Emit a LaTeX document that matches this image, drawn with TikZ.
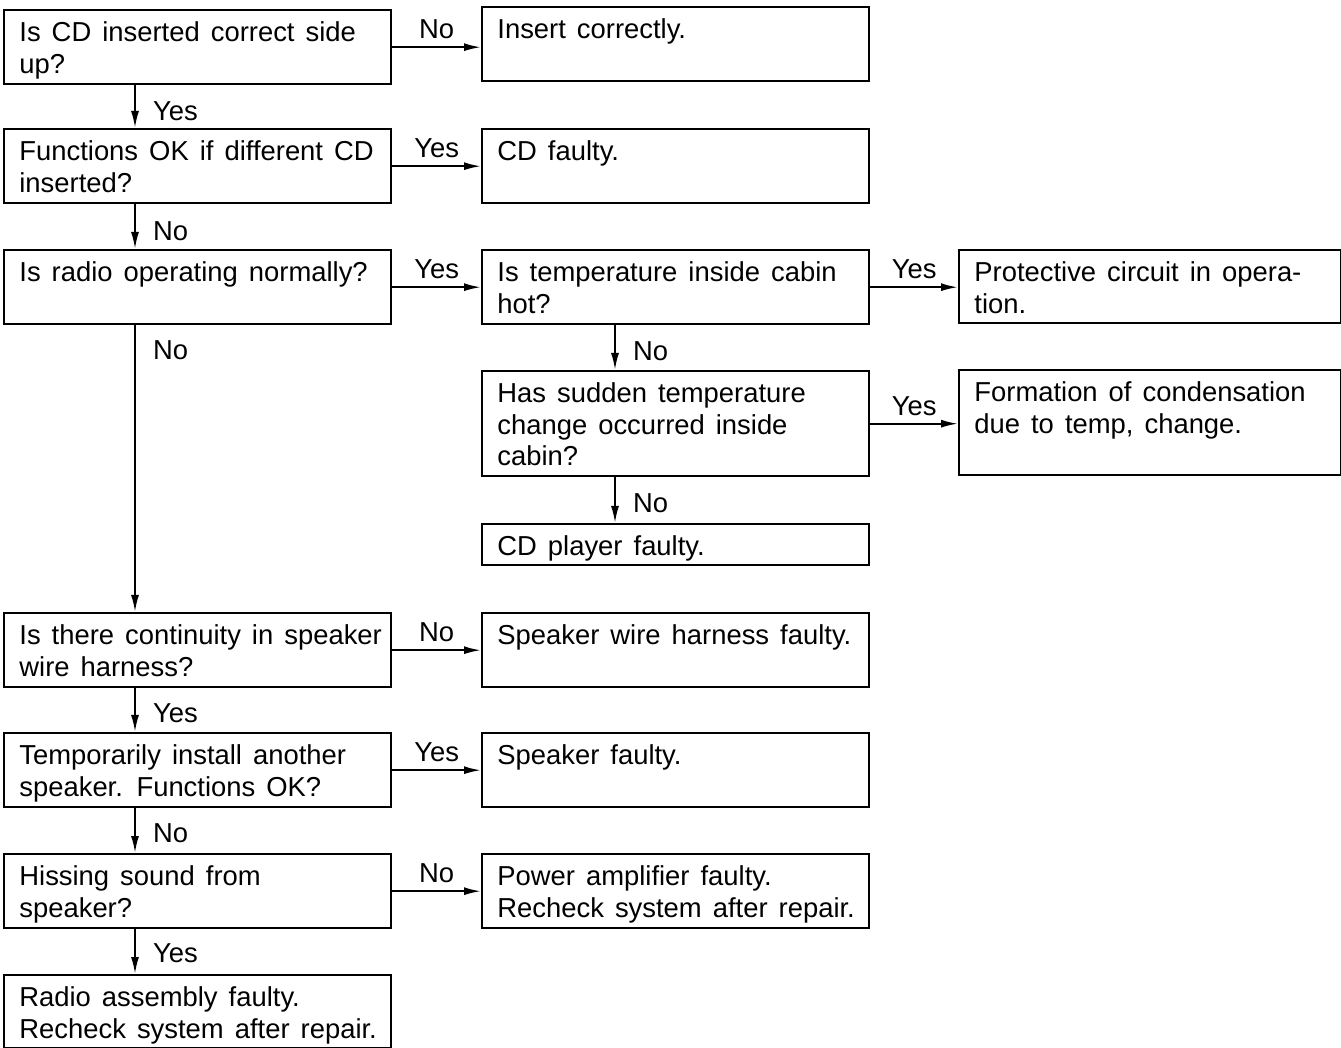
\documentclass[tikz,border=0pt]{standalone}
\usepackage{fontspec}
\setmainfont{Liberation Sans}[WordSpace=1.45]
\usetikzlibrary{arrows.meta, positioning, calc}
\newcommand{\chartfont}{\fontsize{13.7}{15.8}\selectfont}
\tikzset{
    stepbox/.style={
        rectangle,
        draw=black,
        line width=1.2pt,
        anchor=north west,
        inner sep=0pt,
        minimum width=193.5pt,
        minimum height=37pt
    },
    boxtext/.style={
        anchor=north west,
        inner sep=0pt,
        align=left,
        xshift=8pt,
        yshift=-6.2pt,
        font=\chartfont
    },
    answer/.style={inner sep=2pt, font=\chartfont},
    flowarrow/.style={-{Latex[length=8.5pt, width=4pt]}, line width=1pt, draw=black}
}

\begin{document}
\begin{tikzpicture}[x=0.5pt,y=-0.5pt]
        \useasboundingbox (0,0) rectangle (1341,1048);
        \coordinate (lcol) at (135,0);
        \coordinate (mcol) at (615,0);

        % left column: questions
        \node[stepbox] (side) at (3,9) {};
        \node[stepbox] (othercd) at (3,128) {};
        \node[stepbox] (radio) at (3,249) {};
        \node[stepbox] (wire) at (3,612) {};
        \node[stepbox] (spare) at (3,732) {};
        \node[stepbox] (hiss) at (3,853) {};
        \node[stepbox, minimum height=36.5pt] (radiofault) at (3,974) {};

        % middle column
        \node[stepbox] (insert) at (481,6) {};
        \node[stepbox] (cdfault) at (481,128) {};
        \node[stepbox] (hot) at (481,249) {};
        \node[stepbox, minimum height=52.5pt] (sudden) at (481,370) {};
        \node[stepbox, minimum height=20.5pt] (player) at (481,523) {};
        \node[stepbox] (wirefault) at (481,612) {};
        \node[stepbox] (spkfault) at (481,732) {};
        \node[stepbox] (ampfault) at (481,853) {};

        % right column
        \node[stepbox, minimum width=191pt, minimum height=36.5pt] (protect) at (958,249) {};
        \node[stepbox, minimum width=191pt, minimum height=52.5pt] (condense) at (958,369) {};

        % texts
        \node[boxtext] (side-t) at (side.north west) {Is CD inserted correct side\\up?};
        \node[boxtext] (othercd-t) at (othercd.north west) {Functions OK if different CD\\inserted?};
        \node[boxtext] (radio-t) at (radio.north west) {Is radio operating normally?};
        \node[boxtext] (wire-t) at (wire.north west) {Is there continuity in speaker\\wire harness?};
        \node[boxtext] (spare-t) at (spare.north west) {Temporarily install another\\speaker. Functions OK?};
        \node[boxtext] (hiss-t) at (hiss.north west) {Hissing sound from\\speaker?};
        \node[boxtext] (radiofault-t) at (radiofault.north west) {Radio assembly faulty.\\Recheck system after repair.};
        \node[boxtext] (insert-t) at (insert.north west) {Insert correctly.};
        \node[boxtext] (cdfault-t) at (cdfault.north west) {CD faulty.};
        \node[boxtext] (hot-t) at (hot.north west) {Is temperature inside cabin\\hot?};
        \node[boxtext] (sudden-t) at (sudden.north west) {Has sudden temperature\\change occurred inside\\cabin?};
        \node[boxtext] (player-t) at (player.north west) {CD player faulty.};
        \node[boxtext] (wirefault-t) at (wirefault.north west) {Speaker wire harness faulty.};
        \node[boxtext] (spkfault-t) at (spkfault.north west) {Speaker faulty.};
        \node[boxtext] (ampfault-t) at (ampfault.north west) {Power amplifier faulty.\\Recheck system after repair.};
        \node[boxtext] (protect-t) at (protect.north west) {Protective circuit in opera-\\tion.};
        \node[boxtext] (condense-t) at (condense.north west) {Formation of condensation\\due to temp, change.};

        % horizontal answers
        \draw[flowarrow] (side.east) -- node[answer, above=1.5pt]{No} (side.east -| insert.west);
        \draw[flowarrow] (othercd.east) -- node[answer, above=1.5pt]{Yes} (othercd.east -| cdfault.west);
        \draw[flowarrow] (radio.east) -- node[answer, above=1.5pt]{Yes} (radio.east -| hot.west);
        \draw[flowarrow] (hot.east) -- node[answer, above=1.5pt]{Yes} (hot.east -| protect.west);
        \draw[flowarrow] (sudden.east) -- node[answer, above=1.5pt]{Yes} (sudden.east -| condense.west);
        \draw[flowarrow] (wire.east) -- node[answer, above=1.5pt]{No} (wire.east -| wirefault.west);
        \draw[flowarrow] (spare.east) -- node[answer, above=1.5pt]{Yes} (spare.east -| spkfault.west);
        \draw[flowarrow] (hiss.east) -- node[answer, above=1.5pt]{No} (hiss.east -| ampfault.west);

        % vertical answers
        \draw[flowarrow] (side.south -| lcol) -- node[answer, right, pos=0.6, xshift=6.5pt]{Yes} (othercd.north -| lcol);
        \draw[flowarrow] (othercd.south -| lcol) -- node[answer, right, pos=0.6, xshift=6.5pt]{No} (radio.north -| lcol);
        \draw[flowarrow] (radio.south -| lcol) -- node[answer, right, pos=0.087, xshift=6.5pt]{No} (wire.north -| lcol);
        \draw[flowarrow] (wire.south -| lcol) -- node[answer, right, pos=0.57, xshift=6.5pt]{Yes} (spare.north -| lcol);
        \draw[flowarrow] (spare.south -| lcol) -- node[answer, right, pos=0.55, xshift=6.5pt]{No} (hiss.north -| lcol);
        \draw[flowarrow] (hiss.south -| lcol) -- node[answer, right, pos=0.53, xshift=6.5pt]{Yes} (radiofault.north -| lcol);
        \draw[flowarrow] (hot.south -| mcol) -- node[answer, right, pos=0.57, xshift=6.5pt]{No} (sudden.north -| mcol);
        \draw[flowarrow] (sudden.south -| mcol) -- node[answer, right, pos=0.56, xshift=6.5pt]{No} (player.north -| mcol);
    \end{tikzpicture}
\end{document}
